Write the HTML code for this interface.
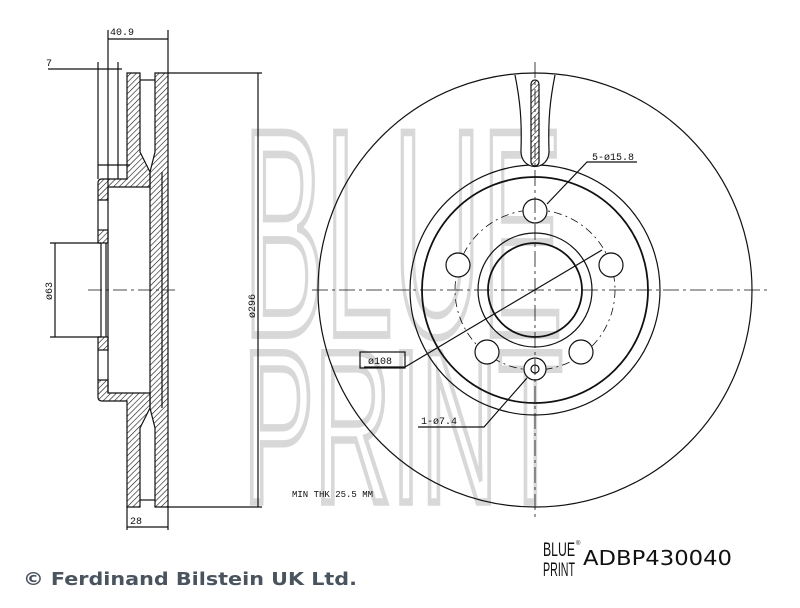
<!DOCTYPE html>
<html><head><meta charset="utf-8"><style>
html,body{margin:0;padding:0;background:#fff;}
body{width:800px;height:608px;overflow:hidden;position:relative;}
</style></head><body>
<svg width="800" height="608" viewBox="0 0 800 608" xmlns="http://www.w3.org/2000/svg" style="position:absolute;left:0;top:0">
<defs>
<pattern id="h" width="4" height="4" patternUnits="userSpaceOnUse" patternTransform="rotate(45)">
<line x1="0" y1="0" x2="0" y2="4" stroke="#111" stroke-width="1.2"/>
</pattern>
</defs>
<g font-family="Liberation Sans Narrow, Liberation Sans, sans-serif" fill="none" stroke="#d8d8d8" stroke-width="6">
<text transform="translate(243,335) scale(1,1.28)" x="0" y="0" font-size="230" textLength="320" lengthAdjust="spacingAndGlyphs">BLUE</text>
<text transform="translate(243,502) scale(1,1.24)" x="0" y="0" font-size="175" textLength="320" lengthAdjust="spacingAndGlyphs">PRINT</text>
</g>
<g fill="none" stroke="#111" stroke-width="1.2">
<path d="M127,73 H140 V152 L150,172 V187 H108 V200 H98 V183 Q98,179 102,179 H127 Z" fill="url(#h)"/>
<path d="M127,507 H140 V428 L150,408 V393 H108 V380 H98 V397 Q98,401 102,401 H127 Z" fill="url(#h)"/>
<rect x="98" y="230" width="10" height="13" fill="url(#h)"/>
<rect x="98" y="337" width="10" height="13" fill="url(#h)"/>
<path d="M98,200 V230 M108,200 V230 M98,350 V380 M108,350 V380 M101,243 V337 M106,243 V337 M108,187 V393"/>
<path d="M155,73 H168 V507 H155 V428 L150,408 V172 L155,152 Z" fill="url(#h)"/>
<line x1="140" y1="80" x2="155" y2="80"/><line x1="140" y1="500" x2="155" y2="500"/>
<line x1="162" y1="172" x2="162" y2="408"/>
<line x1="98" y1="165" x2="130" y2="165"/>
<line x1="108" y1="30" x2="108" y2="187"/><line x1="168" y1="30" x2="168" y2="73"/>
<line x1="118" y1="62" x2="118" y2="179"/>
<line x1="98" y1="62" x2="98" y2="179"/>
<line x1="108" y1="39" x2="168" y2="39"/>
<line x1="48" y1="69" x2="122" y2="69"/>
<line x1="50" y1="243" x2="101" y2="243"/><line x1="50" y1="337" x2="101" y2="337"/>
<line x1="55" y1="243" x2="55" y2="337"/>
<line x1="168" y1="73" x2="262" y2="73"/><line x1="168" y1="507" x2="262" y2="507"/>
<line x1="258" y1="73" x2="258" y2="507"/>
<line x1="127" y1="507" x2="127" y2="530"/><line x1="168" y1="507" x2="168" y2="530"/>
<line x1="127" y1="527" x2="168" y2="527"/>
<line x1="88" y1="290" x2="175" y2="290" stroke-dasharray="14,4,3,4" stroke-width="0.8"/>
<circle cx="535" cy="290" r="217"/>
<circle cx="535" cy="290" r="125"/>
<circle cx="535" cy="290" r="113" stroke-width="1.8"/>
<circle cx="535" cy="290" r="57"/>
<circle cx="535" cy="290" r="47" stroke-width="1.8"/>
<circle cx="535" cy="290" r="80" stroke-dasharray="8,4,2,4" stroke-width="0.8"/>
<circle cx="535" cy="211" r="12" fill="#fff"/>
<circle cx="458" cy="265" r="12" fill="#fff"/>
<circle cx="611" cy="265" r="12" fill="#fff"/>
<circle cx="487" cy="352" r="12" fill="#fff"/>
<circle cx="581" cy="352" r="12" fill="#fff"/>
<circle cx="535" cy="369" r="11" fill="#fff"/>
<circle cx="535" cy="369" r="4"/>
<path d="M515,75 C520,100 522,120 521,150 C520,172 550,172 549,150 C548,120 550,100 555,75" fill="#fff"/>
<rect x="531" y="80" width="8" height="86" rx="4" fill="url(#h)"/>
<g stroke-width="0.8" stroke-dasharray="16,4,3,4">
<line x1="312" y1="290" x2="770" y2="290"/>
<line x1="535" y1="62" x2="535" y2="520"/>
</g>
<polyline points="547,204 587,162 637,162"/>
<polyline points="364,367 405,367 602,250"/>
<polyline points="527,378 484,427 418,427"/>
<rect x="360" y="352" width="45" height="16"/>
</g>
<g font-family="Liberation Mono, monospace" font-size="10" fill="#111">
<text x="110" y="35">40.9</text>
<text x="46" y="66">7</text>
<text x="130" y="524">28</text>
<text x="592" y="160">5-ø15.8</text>
<text x="421" y="424">1-ø7.4</text>
<text x="368" y="364">ø108</text>
<text x="292" y="497" font-size="9">MIN THK 25.5 MM</text>
<text transform="translate(52,300) rotate(-90)">ø63</text>
<text transform="translate(255,318) rotate(-90)">ø296</text>
</g>
<text x="23" y="585" font-family="DejaVu Sans, sans-serif" font-weight="bold" font-size="17.5" fill="#4a545e" textLength="334" lengthAdjust="spacingAndGlyphs">© Ferdinand Bilstein UK Ltd.</text>
<g font-family="Liberation Sans Narrow, Liberation Sans, sans-serif" fill="#111">
<text transform="translate(543,556) scale(1,1.6)" font-size="12" textLength="32" lengthAdjust="spacingAndGlyphs">BLUE</text>
<text transform="translate(543,576) scale(1,1.6)" font-size="12" textLength="32" lengthAdjust="spacingAndGlyphs">PRINT</text>
<text x="576" y="545" font-size="6">®</text>
</g>
<text x="583" y="565" font-family="DejaVu Sans, sans-serif" font-size="20" fill="#111" textLength="149" lengthAdjust="spacingAndGlyphs">ADBP430040</text>
</svg>
</body></html>
